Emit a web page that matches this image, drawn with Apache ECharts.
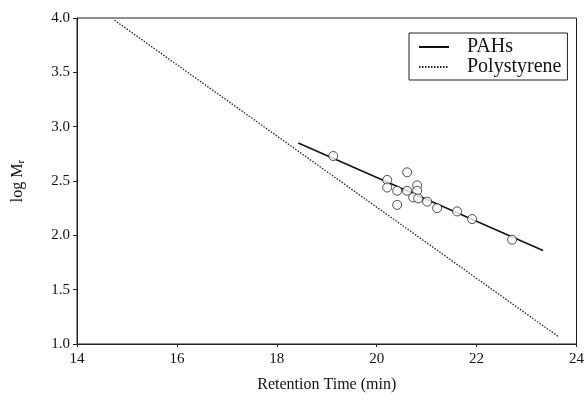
<!DOCTYPE html>
<html>
<head>
<meta charset="utf-8">
<script src="https://cdn.jsdelivr.net/npm/echarts@6/dist/echarts.min.js"></script>
<style>
  html, body { margin: 0; padding: 0; background: #fff; }
  #chart { width: 587px; height: 404px; }
</style>
</head>
<body>
<div id="chart"></div>
<script>
// measured PAH retention times (min) and log Mr
const pahTime = [19.13, 20.21, 20.21, 20.61, 20.41, 20.61, 20.81, 20.81, 20.73, 20.83, 20.41, 21.01, 21.21, 21.61, 21.91, 22.71];
const pahLogM = [2.73, 2.51, 2.44, 2.58, 2.41, 2.41, 2.46, 2.41, 2.35, 2.34, 2.28, 2.31, 2.25, 2.22, 2.15, 1.96];

// fitted calibration lines (end points)
const pahFitTime = [18.43, 23.33];
const pahFitLogM = [2.85, 1.86];
const psFitTime = [14.75, 23.63];
const psFitLogM = [3.98, 1.07];

const xTicks = [14, 16, 18, 20, 22, 24];
const yTicks = [1.0, 1.5, 2.0, 2.5, 3.0, 3.5, 4.0];

const font = "Liberation Serif";
const zip = (a, b) => a.map((v, i) => [v, b[i]]);

const chart = echarts.init(document.getElementById("chart"));

const option = {
  animation: false,
  textStyle: { fontFamily: font, color: "#111" },
  grid: {
    left: 77,
    right: 10,
    top: 18,
    bottom: 60,
    show: true,
    borderColor: "#222",
    borderWidth: 1,
  },
  legend: {
    data: ["PAHs", "Polystyrene"],
    orient: "vertical",
    left: 409,
    top: 33,
    padding: [4, 6, 3, 9],
    itemGap: 0,
    itemWidth: 30,
    itemHeight: 14,
    itemStyle: { opacity: 0 },
    borderColor: "#222",
    borderWidth: 1,
    textStyle: { fontFamily: font, fontSize: 20, lineHeight: 18, color: "#111", padding: [0, 0, 0, 13] },
  },
  xAxis: {
    type: "value",
    min: xTicks[0],
    max: xTicks[xTicks.length - 1],
    interval: 2,
    name: "Retention Time (min)",
    nameLocation: "middle",
    nameGap: 33,
    nameTextStyle: { fontFamily: font, fontSize: 16, color: "#111" },
    axisLine: { show: true, lineStyle: { color: "#222", width: 1 } },
    axisTick: { show: true, length: 3, lineStyle: { color: "#222" } },
    axisLabel: { fontFamily: font, fontSize: 15, color: "#111", margin: 8 },
    splitLine: { show: false },
  },
  yAxis: {
    type: "value",
    min: yTicks[0],
    max: yTicks[yTicks.length - 1],
    interval: 0.5,
    name: "log M{sub|r}",
    nameLocation: "middle",
    nameRotate: 90,
    nameGap: 50,
    nameTextStyle: {
      fontFamily: font,
      fontSize: 16,
      color: "#111",
      rich: { sub: { fontFamily: font, fontSize: 11, verticalAlign: "bottom", padding: [8, 0, 0, 0] } },
    },
    axisLine: { show: true, lineStyle: { color: "#222", width: 1 } },
    axisTick: { show: true, length: 4, lineStyle: { color: "#222" } },
    axisLabel: {
      fontFamily: font,
      fontSize: 15,
      color: "#111",
      margin: 7,
      formatter: (v) => v.toFixed(1),
    },
    splitLine: { show: false },
  },
  series: [
    {
      name: "PAHs",
      type: "line",
      data: zip(pahFitTime, pahFitLogM),
      symbol: "none",
      lineStyle: { color: "#111", width: 1.5 },
      itemStyle: { color: "#111" },
      z: 2,
    },
    {
      name: "Polystyrene",
      type: "line",
      data: zip(psFitTime, psFitLogM),
      symbol: "none",
      lineStyle: { color: "#222", width: 1.3, type: [1.5, 1.5] },
      itemStyle: { color: "#222" },
      z: 2,
    },
    {
      name: "points",
      type: "scatter",
      data: zip(pahTime, pahLogM),
      symbol: "circle",
      symbolSize: 9,
      itemStyle: { color: "#fff", borderColor: "#222", borderWidth: 1 },
      z: 3,
    },
  ],
};

chart.setOption(option);
</script>
</body>
</html>
